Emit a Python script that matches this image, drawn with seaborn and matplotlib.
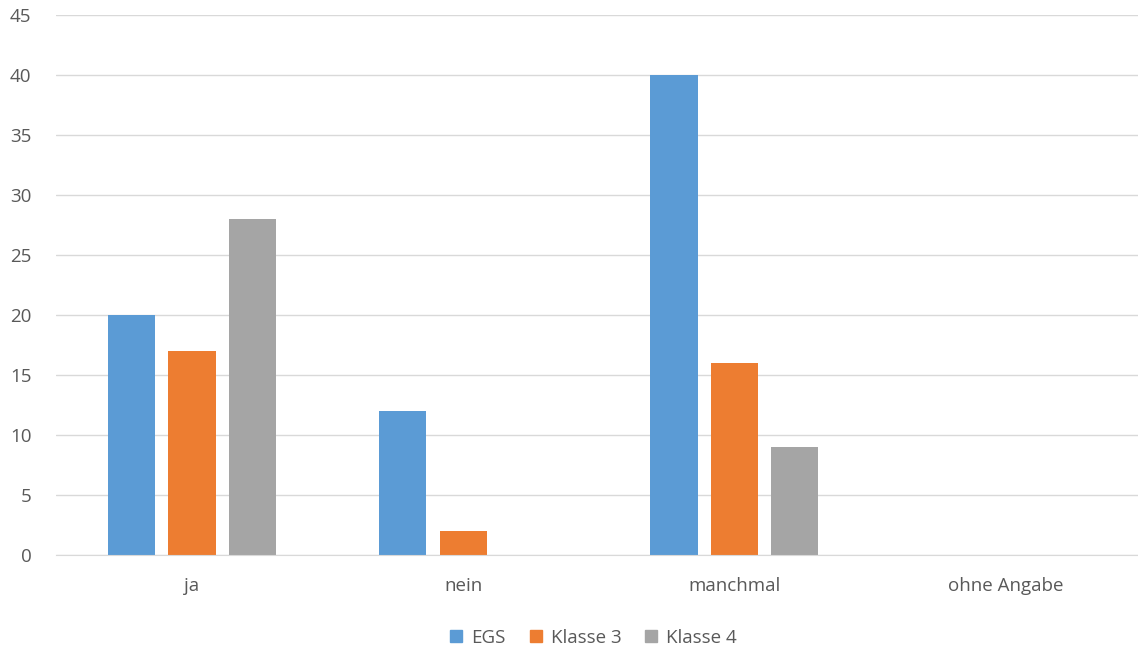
import pandas as pd
import seaborn as sns
import matplotlib.pyplot as plt

categories = ["ja", "nein", "manchmal", "ohne Angabe"]
series = ["EGS", "Klasse 3", "Klasse 4"]
egs = [20, 12, 40, 0]
klasse3 = [17, 2, 16, 0]
klasse4 = [28, 0, 9, 0]
colors = ["#5B9BD5", "#ED7D31", "#A5A5A5"]

df = pd.DataFrame({
    "Antwort": categories * 3,
    "Gruppe": [s for s in series for _ in categories],
    "Wert": egs + klasse3 + klasse4,
})

sns.set_style("white")
plt.rcParams["font.family"] = ["Open Sans", "DejaVu Sans"]
text_color = "#595959"

fig = plt.figure(figsize=(11.38, 6.52), dpi=100)
ax = fig.add_axes([0.0496, 0.149, 0.953, 0.828])

sns.barplot(df, x="Antwort", y="Wert", hue="Gruppe", palette=colors,
            saturation=1, width=0.667, gap=0.217, linewidth=0,
            ax=ax, legend=True)

ax.set_ylim(0, 45)
ax.set_yticks(range(0, 46, 5))
ax.set_xlim(-0.5, 3.5)
ax.yaxis.grid(True, color="#D9D9D9", linewidth=1)
ax.set_axisbelow(True)
for side in ["top", "right", "left"]:
    ax.spines[side].set_visible(False)
ax.spines["bottom"].set_color("#D9D9D9")
ax.tick_params(axis="both", length=0, labelsize=13.5, colors=text_color)
ax.tick_params(axis="x", pad=16)
ax.tick_params(axis="y", pad=18)
ax.set_xlabel("")
ax.set_ylabel("")

ax.get_legend().remove()
handles = [plt.Line2D([], [], marker="s", linestyle="", markersize=9,
                      color=c) for c in colors]
fig.legend(handles, series, loc="center", bbox_to_anchor=(0.516, 0.022),
           ncol=3, frameon=False, fontsize=13.5, handletextpad=-0.2,
           columnspacing=0.6, labelcolor=text_color)

fig.savefig("out.png", dpi=100)
